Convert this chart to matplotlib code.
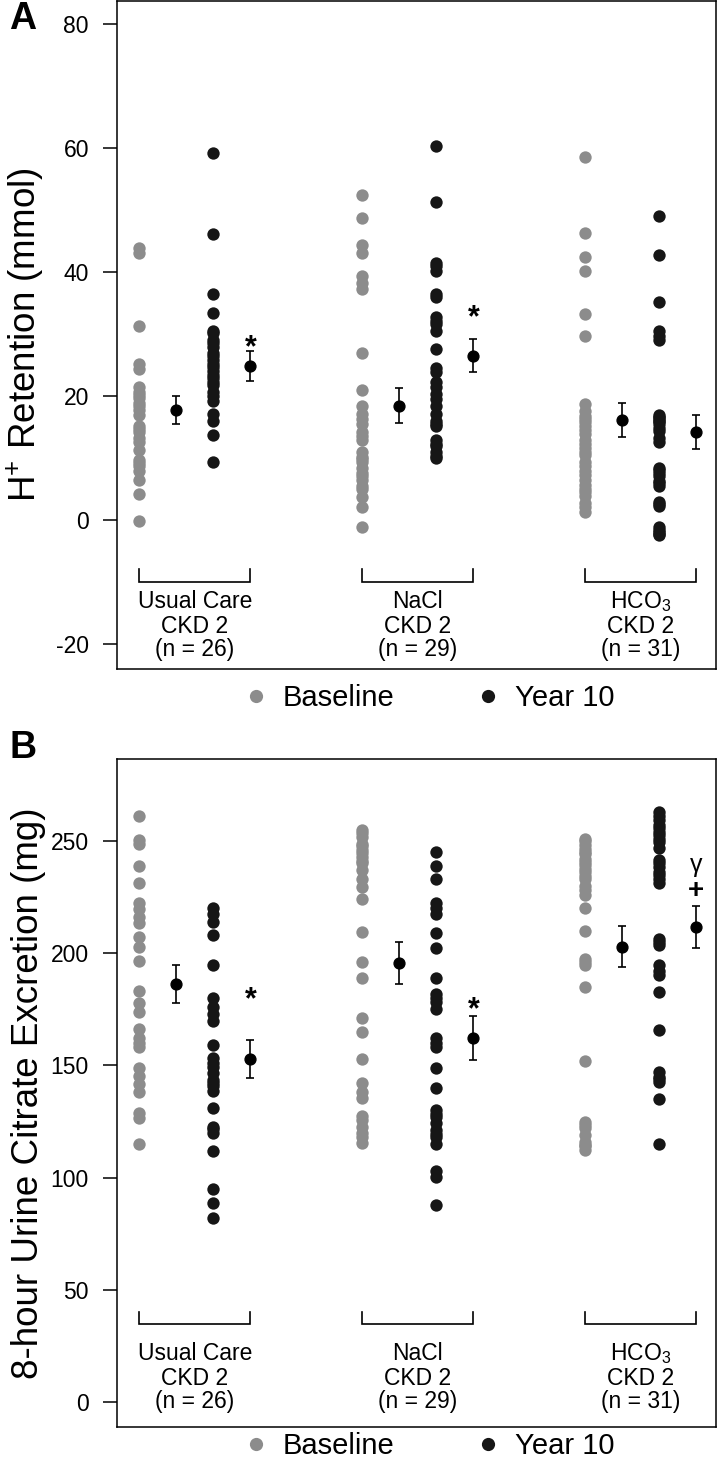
import matplotlib
matplotlib.use("Agg")
import matplotlib.pyplot as plt
from matplotlib.lines import Line2D
import numpy as np

plt.rcParams['font.family'] = ['Liberation Sans', 'DejaVu Sans']
plt.rcParams['mathtext.fontset'] = 'custom'
plt.rcParams['mathtext.rm'] = 'Liberation Sans'
plt.rcParams['mathtext.it'] = 'Liberation Sans:italic'
plt.rcParams['mathtext.bf'] = 'Liberation Sans:bold'
plt.rcParams['mathtext.sf'] = 'Liberation Sans'
plt.rcParams['axes.unicode_minus'] = False

# ---------------- data ----------------
groups = ["Usual Care", "NaCl", "HCO$_3$"]
group_sub = ["CKD 2", "CKD 2", "CKD 2"]
group_n = ["(n = 26)", "(n = 29)", "(n = 31)"]
legend_labels = ["Baseline", "Year 10"]

# Panel A: H+ retention (mmol)
A_uc_base = [43.9, 43.0, 31.2, 25.2, 24.3, 21.4, 20.6, 20.2, 19.7, 18.8, 18.3, 17.7, 16.9,
             15.1, 14.6, 14.1, 13.2, 12.5, 11.2, 9.6, 9.1, 8.7, 7.9, 6.4, 4.2, -0.2]
A_uc_y10 = [59.2, 46.1, 36.5, 33.3, 30.5, 30.1, 29.0, 28.5, 27.8, 26.9, 26.4, 25.8, 25.2,
            24.6, 24.0, 23.4, 22.9, 22.3, 21.7, 20.6, 20.0, 19.1, 17.1, 16.0, 13.6, 9.3]
A_nacl_base = [52.4, 48.7, 44.3, 43.1, 39.4, 38.2, 37.2, 26.9, 21.0, 18.3, 17.1, 16.2, 15.4,
               14.1, 13.5, 12.8, 11.0, 10.2, 9.8, 9.3, 8.4, 7.6, 7.0, 6.4, 5.5, 5.0, 3.7, 2.1, -1.2]
A_nacl_y10 = [60.3, 51.2, 41.4, 41.0, 40.2, 36.5, 36.0, 32.7, 32.0, 31.6, 30.4, 27.5, 24.5,
              23.8, 22.3, 21.5, 20.3, 19.5, 18.3, 17.0, 16.0, 15.5, 15.1, 12.8, 12.3, 11.9,
              11.0, 10.3, 10.0]
A_hco3_base = [58.6, 46.2, 42.4, 40.1, 33.2, 29.7, 18.7, 17.5, 16.8, 16.2, 15.7, 15.1, 14.5,
               13.8, 12.8, 12.2, 11.6, 11.0, 10.5, 9.3, 8.6, 7.9, 7.2, 6.4, 5.6, 5.0, 4.4,
               3.8, 2.7, 2.0, 1.2]
A_hco3_y10 = [49.0, 42.7, 35.2, 30.4, 29.7, 29.0, 16.9, 16.6, 16.4, 16.0, 15.9, 15.5, 14.8,
              14.3, 13.2, 12.6, 8.4, 8.0, 7.5, 7.0, 6.2, 5.9, 5.5, 2.8, 2.5, 2.2, -1.1, -1.6,
              -2.0, -2.3, -2.5]
A_means = [17.7, 24.8, 18.4, 26.5, 16.1, 14.2]
A_errs = [2.2, 2.35, 2.85, 2.6, 2.7, 2.75]

# Panel B: 8-hour urine citrate excretion (mg)
B_uc_base = [261.0, 250.3, 248.5, 239.0, 231.0, 222.1, 219.6, 215.9, 213.2, 207.3, 202.8,
             196.4, 183.1, 177.9, 173.9, 166.0, 162.0, 160.0, 158.0, 148.9, 145.3, 141.6,
             138.3, 128.8, 126.6, 115.0]
B_uc_y10 = [220.3, 217.6, 213.9, 208.0, 194.7, 180.1, 176.1, 173.1, 169.9, 159.0, 153.1,
            151.0, 149.4, 146.4, 143.5, 142.0, 140.8, 138.8, 130.9, 122.7, 121.5, 119.8,
            111.9, 95.0, 88.9, 81.9]
B_nacl_base = [254.7, 253.5, 251.8, 248.8, 247.5, 245.8, 244.5, 242.9, 241.0, 239.9, 236.9,
               233.0, 229.5, 224.3, 209.2, 196.1, 188.7, 170.9, 165.0, 152.7, 142.0, 138.3,
               135.3, 127.5, 125.7, 122.7, 119.8, 118.0, 115.3]
B_nacl_y10 = [245.0, 238.9, 233.1, 222.1, 220.0, 217.6, 209.0, 202.1, 189.0, 182.0, 180.0,
              178.3, 175.2, 162.0, 160.0, 158.3, 148.7, 139.8, 130.1, 128.5, 127.2, 124.2,
              121.2, 119.5, 118.3, 115.0, 103.1, 100.4, 87.8]
B_hco3_base = [251.0, 250.0, 248.1, 246.5, 245.1, 244.0, 242.1, 240.5, 239.2, 237.5, 236.2,
               234.5, 233.2, 230.0, 228.0, 226.0, 219.9, 209.9, 197.2, 196.0, 194.7, 185.0,
               152.1, 124.9, 123.5, 122.0, 119.0, 116.0, 114.5, 114.0, 112.3]
B_hco3_y10 = [262.9, 261.0, 259.2, 257.0, 255.5, 254.0, 252.5, 251.0, 249.6, 247.0, 241.4,
              240.0, 238.4, 236.0, 234.7, 233.0, 231.0, 206.5, 205.0, 203.6, 194.7, 192.0,
              190.2, 182.8, 165.7, 147.2, 145.0, 144.0, 142.7, 135.0, 115.0]
B_means = [186.3, 152.8, 195.7, 162.3, 202.8, 211.7]
B_errs = [8.4, 8.5, 9.3, 9.7, 9.1, 9.4]

# annotations: (column index of mean, y value, symbol)
A_marks = [(1, 29.8, "*"), (3, 34.7, "*")]
B_marks = [(1, 185.0, "*"), (3, 180.6, "*"), (5, 227.6, "+"), (5, 239.2, "γ")]

# ---------------- layout ----------------
W, H = 720, 1461
fig = plt.figure(figsize=(W / 100, H / 100), dpi=100)

GRAY = "#8c8c8c"
BLACK = "#161616"
FS = 16.5

left, right = 116.7, 716.0
axA = fig.add_axes([left / W, 1 - 668.5 / H, (right - left) / W, (668.5 - 1.0) / H])
axB = fig.add_axes([left / W, 1 - 1426.7 / H, (right - left) / W, (1426.7 - 759.3) / H])

# x positions of columns: baseline pts, baseline mean, y10 pts, y10 mean
col_x = np.array([1, 2, 3, 4, 7, 8, 9, 10, 13, 14, 15, 16], dtype=float)

SYM_STYLE = {"*": dict(fontsize=22, fontweight='bold'),
             "+": dict(fontsize=20, fontweight='bold'),
             "γ": dict(fontsize=18)}


def draw_panel(ax, base_list, y10_list, means, errs, marks, ylim, yticks,
               bracket, label_ys, ylabel, star_dy):
    for g in range(3):
        xb, xbm, xy, xym = col_x[4 * g:4 * g + 4]
        b = base_list[g]
        y = y10_list[g]
        ax.plot(np.full(len(b), xb), b, 'o', ms=8.9, color=GRAY, mec='none', zorder=2)
        ax.plot(np.full(len(y), xy), y, 'o', ms=8.9, color=BLACK, mec='none', zorder=2)
        ax.errorbar([xbm, xym], [means[2 * g], means[2 * g + 1]],
                    yerr=[errs[2 * g], errs[2 * g + 1]], fmt='o', ms=7.8,
                    color='black', ecolor='black', elinewidth=1.2, capsize=3.0,
                    capthick=1.2, zorder=3)
        # bracket
        ax.plot([xb, xb, xym, xym], [bracket[0], bracket[1], bracket[1], bracket[0]],
                color='black', lw=1.2, solid_joinstyle='miter', zorder=2)
        cx = (xb + xym) / 2
        ax.text(cx, label_ys[0], groups[g], ha='center', va='center', fontsize=FS)
        ax.text(cx, label_ys[1], group_sub[g], ha='center', va='center', fontsize=FS)
        ax.text(cx, label_ys[2], group_n[g], ha='center', va='center', fontsize=FS)
    for idx, yv, sym in marks:
        xm = col_x[4 * (idx // 2) + 1 + 2 * (idx % 2)]
        ax.text(xm, yv + star_dy.get(sym, 0), sym, ha='center', va='center',
                **SYM_STYLE[sym])
    ax.set_xlim(0.4, 16.53)
    ax.set_ylim(*ylim)
    ax.set_xticks([])
    ax.set_yticks(yticks)
    ax.set_yticklabels([str(t) for t in yticks])
    ax.tick_params(axis='y', direction='out', length=10, width=1.1, pad=10,
                   labelsize=FS)
    for s in ax.spines.values():
        s.set_linewidth(1.1)
    ax.set_ylabel(ylabel, fontsize=26.5)
    ax.yaxis.set_label_coords(-0.118, 0.5)


draw_panel(axA, [A_uc_base, A_nacl_base, A_hco3_base],
           [A_uc_y10, A_nacl_y10, A_hco3_y10], A_means, A_errs, A_marks,
           (-24, 83.7), [-20, 0, 20, 40, 60, 80], (-8, -10),
           (-13.2, -17.2, -21.0), r"H$^{+}$ Retention (mmol)", {"*": -2.2})
draw_panel(axB, [B_uc_base, B_nacl_base, B_hco3_base],
           [B_uc_y10, B_nacl_y10, B_hco3_y10], B_means, B_errs, B_marks,
           (-10.9, 286.3), [0, 50, 100, 150, 200, 250], (40, 35),
           (21.8, 10.7, 0.3), "8-hour Urine Citrate Excretion (mg)", {"*": -6.0})

# legends
handles = [Line2D([], [], ls='none', marker='o', ms=9.5, color=GRAY, mec='none'),
           Line2D([], [], ls='none', marker='o', ms=9.5, color=BLACK, mec='none')]
for ax, yc in ((axA, 698), (axB, 1446)):
    ax.legend(handles, legend_labels, loc='center', bbox_to_anchor=(431 / W, 1 - yc / H),
              bbox_transform=fig.transFigure, ncol=2, frameon=False, fontsize=21,
              handlelength=0.6, handletextpad=0.62, columnspacing=2.9,
              borderpad=0, borderaxespad=0)

# panel letters
fig.text(23 / W, 1 - 29 / H, "A", fontsize=27, fontweight='bold', ha='center', va='baseline')
fig.text(23 / W, 1 - 758 / H, "B", fontsize=27, fontweight='bold', ha='center', va='baseline')

fig.savefig("out.png", dpi=100, facecolor='white')
